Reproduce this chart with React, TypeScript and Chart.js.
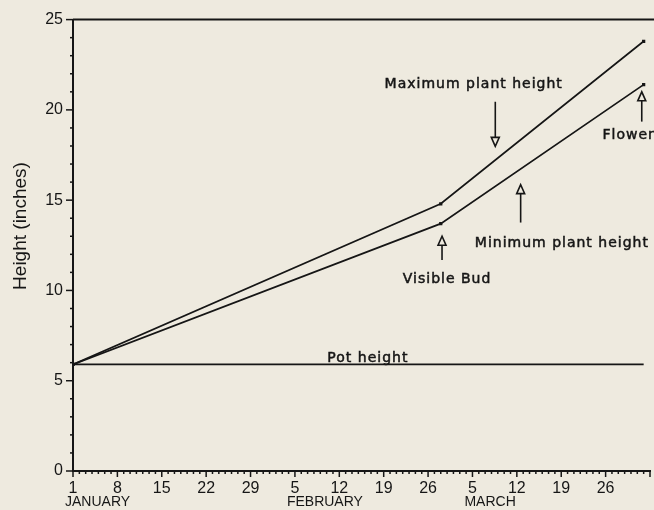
import React, { useEffect, useRef } from "react";
import { Chart, registerables } from "chart.js";

Chart.register(...registerables);

// ---- data (day 0 = January 1) ----
const plantDays = [0, 58, 90];
const maxPlantHeight = [5.9, 14.8, 23.8];
const minPlantHeight = [5.9, 13.7, 21.4];
const potDays = [0, 90];
const potHeight = [5.9, 5.9];

const xTickDays = [0, 7, 14, 21, 28, 35, 42, 49, 56, 63, 70, 77, 84];
const xTickLabels = ["1", "8", "15", "22", "29", "5", "12", "19", "26", "5", "12", "19", "26"];
const monthStartDays = [0, 35, 63];
const monthNames = ["JANUARY", "FEBRUARY", "MARCH"];
const yTickValues = [0, 5, 10, 15, 20, 25];

const labelTexts = ["Maximum plant height", "Minimum plant height", "Visible Bud", "Flower", "Pot height"];
const labelDays = [63.2, 77.1, 59.0, 83.5, 46.5];
const labelValues = [21.44, 12.63, 10.6, 18.6, 6.23];
const labelAligns = ["center", "center", "center", "left", "center"];

const arrowDays = [66.6, 70.6, 58.2, 89.7];
const arrowTails = [20.45, 13.76, 11.68, 19.35];
const arrowTips = [17.98, 15.86, 13.0, 21.0];

const INK = "#161616";
const BG = "#eeeadf";

const decorPlugin = {
  id: "decor",
  beforeDraw(chart: any) {
    const { ctx } = chart;
    ctx.save();
    ctx.fillStyle = BG;
    ctx.fillRect(0, 0, chart.width, chart.height);
    ctx.restore();
  },
  afterDraw(chart: any) {
    const { ctx, chartArea } = chart;
    const xs = chart.scales.x;
    const ys = chart.scales.y;
    ctx.save();
    ctx.strokeStyle = INK;
    ctx.fillStyle = INK;

    // top frame line
    ctx.lineWidth = 2;
    ctx.beginPath();
    ctx.moveTo(chartArea.left, chartArea.top);
    ctx.lineTo(chart.width, chartArea.top);
    ctx.stroke();

    // x tick marks (daily, weekly longer)
    ctx.lineWidth = 1.5;
    for (let d = 0; d <= Math.floor(xs.max); d++) {
      const px = xs.getPixelForValue(d);
      const len = d % 7 === 0 ? 6 : 3;
      ctx.beginPath();
      ctx.moveTo(px, chartArea.bottom);
      ctx.lineTo(px, chartArea.bottom + len);
      ctx.stroke();
    }
    // y tick marks
    for (let v = 0; v <= ys.max; v++) {
      const py = ys.getPixelForValue(v);
      const len = v % 5 === 0 ? 7 : 3;
      ctx.beginPath();
      ctx.moveTo(chartArea.left - len, py);
      ctx.lineTo(chartArea.left, py);
      ctx.stroke();
    }

    // month names
    ctx.font = "14px 'Liberation Sans', Arial, sans-serif";
    ctx.textAlign = "left";
    ctx.textBaseline = "alphabetic";
    monthNames.forEach((m, i) => {
      ctx.fillText(m, xs.getPixelForValue(monthStartDays[i]) - 8, 506);
    });

    // y axis title
    ctx.save();
    ctx.translate(21, 226);
    ctx.rotate(-Math.PI / 2);
    ctx.font = "19px 'Liberation Sans', Arial, sans-serif";
    ctx.textAlign = "center";
    ctx.textBaseline = "middle";
    ctx.fillText("Height (inches)", 0, 0);
    ctx.restore();

    // annotation labels
    ctx.font = "14px 'DejaVu Sans', sans-serif";
    (ctx as any).letterSpacing = "1px";
    ctx.textBaseline = "middle";
    ctx.lineWidth = 0.5;
    labelTexts.forEach((t, i) => {
      ctx.textAlign = labelAligns[i] as CanvasTextAlign;
      const px = xs.getPixelForValue(labelDays[i]);
      const py = ys.getPixelForValue(labelValues[i]);
      ctx.fillText(t, px, py);
      ctx.strokeText(t, px, py);
    });
    (ctx as any).letterSpacing = "0px";

    // arrows with hollow heads
    ctx.lineWidth = 1.6;
    arrowDays.forEach((d, i) => {
      const px = xs.getPixelForValue(d);
      const tail = ys.getPixelForValue(arrowTails[i]);
      const tip = ys.getPixelForValue(arrowTips[i]);
      const dir = tip > tail ? 1 : -1;
      const headLen = 9;
      const half = 4;
      ctx.beginPath();
      ctx.moveTo(px, tail);
      ctx.lineTo(px, tip - dir * headLen);
      ctx.stroke();
      ctx.beginPath();
      ctx.moveTo(px, tip);
      ctx.lineTo(px - half, tip - dir * headLen);
      ctx.lineTo(px + half, tip - dir * headLen);
      ctx.closePath();
      ctx.fillStyle = BG;
      ctx.fill();
      ctx.stroke();
      ctx.fillStyle = INK;
    });

    ctx.restore();
  },
};

export default function App() {
  const ref = useRef<HTMLCanvasElement | null>(null);

  useEffect(() => {
    document.body.style.margin = "0";
    document.body.style.background = BG;
    const canvas = ref.current;
    if (!canvas) return;
    const toPts = (xs: number[], ys: number[]) => xs.map((x, i) => ({ x, y: ys[i] }));

    const chart = new Chart(canvas, {
      type: "line",
      data: {
        datasets: [
          {
            label: "Maximum plant height",
            data: toPts(plantDays, maxPlantHeight),
            borderColor: INK,
            backgroundColor: INK,
            borderWidth: 1.7,
            pointStyle: "rect",
            pointRadius: 2.3,
            pointBackgroundColor: INK,
            pointBorderWidth: 0,
            tension: 0,
          },
          {
            label: "Minimum plant height",
            data: toPts(plantDays, minPlantHeight),
            borderColor: INK,
            backgroundColor: INK,
            borderWidth: 1.7,
            pointStyle: "rect",
            pointRadius: 2.3,
            pointBackgroundColor: INK,
            pointBorderWidth: 0,
            tension: 0,
          },
          {
            label: "Pot height",
            data: toPts(potDays, potHeight),
            borderColor: INK,
            borderWidth: 1.7,
            pointRadius: 0,
            tension: 0,
          },
        ],
      },
      options: {
        responsive: false,
        animation: false,
        layout: { padding: { top: 15, right: 0, left: 0, bottom: 0 } },
        plugins: {
          legend: { display: false },
          tooltip: { enabled: false },
          title: { display: false },
        },
        scales: {
          x: {
            type: "linear",
            min: 0,
            max: 91,
            afterFit: (s: any) => {
              s.height = 39;
            },
            afterBuildTicks: (s: any) => {
              s.ticks = xTickDays.map((v) => ({ value: v }));
            },
            grid: { display: false, drawTicks: false },
            border: { display: true, color: INK, width: 2 },
            ticks: {
              color: INK,
              padding: 8,
              maxRotation: 0,
              autoSkip: false,
              font: { family: "'Liberation Sans', Arial, sans-serif", size: 16 },
              callback: (v: any) => {
                const i = xTickDays.indexOf(Number(v));
                return i >= 0 ? xTickLabels[i] : "";
              },
            },
          },
          y: {
            type: "linear",
            min: 0,
            max: 25,
            afterFit: (s: any) => {
              s.width = 73;
            },
            afterBuildTicks: (s: any) => {
              s.ticks = yTickValues.map((v) => ({ value: v }));
            },
            grid: { display: false, drawTicks: false },
            border: { display: true, color: INK, width: 2 },
            ticks: {
              color: INK,
              padding: 10,
              font: { family: "'Liberation Sans', Arial, sans-serif", size: 16 },
            },
          },
        },
      },
      plugins: [decorPlugin],
    });

    return () => chart.destroy();
  }, []);

  return <canvas ref={ref} width={654} height={510} style={{ display: "block" }} />;
}
